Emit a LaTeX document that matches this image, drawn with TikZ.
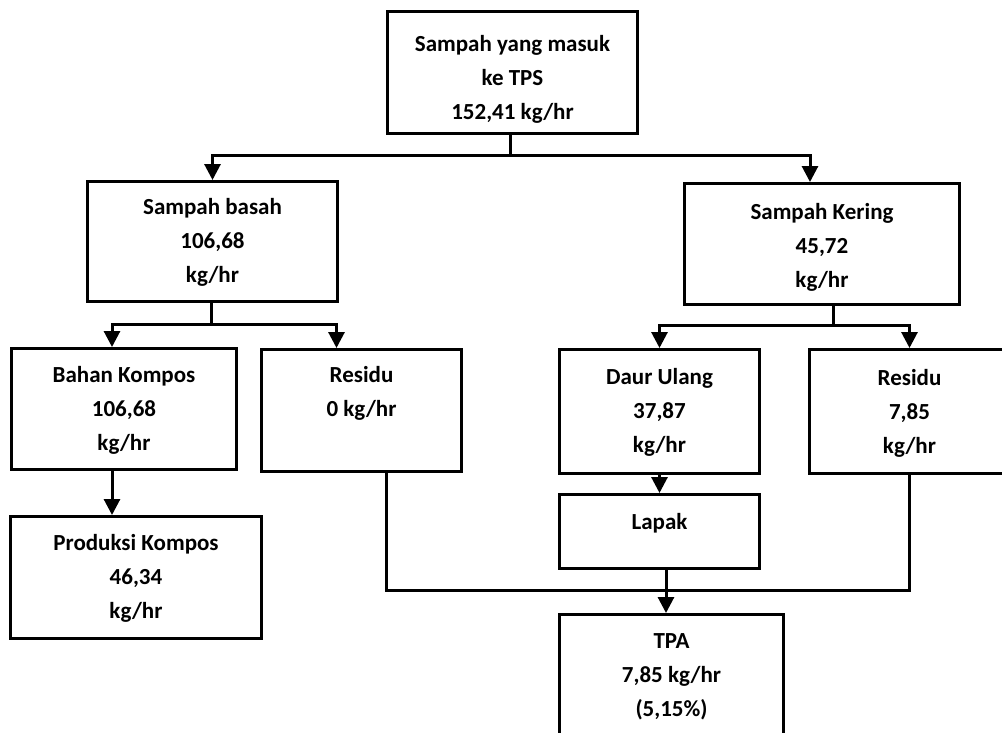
\documentclass[tikz,border=0pt]{standalone}
\usepackage{fontspec}
\setmainfont{Carlito}
\usetikzlibrary{arrows.meta}

\begin{document}
\begin{tikzpicture}[x=1pt, y=-1pt,
  box/.style={draw, line width=3pt, inner sep=0pt, anchor=north west},
  txt/.style={inner sep=0pt, anchor=north, align=center,
              font=\fontsize{23}{34}\selectfont\bfseries},
  wire/.style={line width=3pt},
  arr/.style={wire, -{Triangle[width=16pt,length=16pt]}}]

% page
\fill[white] (0,0) rectangle (1002,732);
\useasboundingbox (0,0) rectangle (1002,732);

% boxes
\node[box, minimum width=250pt, minimum height=122pt] (top)    at (386,10)  {};
\node[box, minimum width=250pt, minimum height=120pt] (basah)  at (86,180)  {};
\node[box, minimum width=275pt, minimum height=121pt] (kering) at (683,182) {};
\node[box, minimum width=225pt, minimum height=121pt] (bahan)  at (10,347)  {};
\node[box, minimum width=200pt, minimum height=122pt] (resL)   at (260,348) {};
\node[box, minimum width=251pt, minimum height=122pt] (prod)   at (9,515)   {};
\node[box, minimum width=200pt, minimum height=124pt] (daur)   at (558,348) {};
\node[box, minimum width=200pt, minimum height=124pt] (resR)   at (808,348) {};
\node[box, minimum width=200pt, minimum height=74pt]  (lapak)  at (558,493) {};
\node[box, minimum width=224pt, minimum height=150pt] (tpa)    at (558,613) {};

% texts
\node[txt] (topT)    at ([yshift=-25pt]top.north)    {Sampah yang masuk\\ke TPS\\152,41 kg/hr};
\node[txt] (basahT)  at ([yshift=-18pt]basah.north)  {Sampah basah\\106,68\\kg/hr};
\node[txt] (keringT) at ([yshift=-21pt]kering.north) {Sampah Kering\\45,72\\kg/hr};
\node[txt] (bahanT)  at ([yshift=-19pt]bahan.north)  {Bahan Kompos\\106,68\\kg/hr};
\node[txt] (resLT)   at ([yshift=-18pt]resL.north)   {Residu\\0 kg/hr};
\node[txt] (prodT)   at ([yshift=-19pt]prod.north)   {Produksi Kompos\\46,34\\kg/hr};
\node[txt] (daurT)   at ([yshift=-20pt]daur.north)   {Daur Ulang\\37,87\\kg/hr};
\node[txt] (resRT)   at ([yshift=-21pt]resR.north)   {Residu\\7,85\\kg/hr};
\node[txt] (lapakT)  at ([yshift=-20pt]lapak.north)  {Lapak};
\node[txt] (tpaT)    at ([yshift=-20pt]tpa.north)    {TPA\\7,85 kg/hr\\(5,15\%)};

% split of incoming waste
\coordinate (s1) at (510,155);
\draw[wire] (top.south -| s1) -- (s1);
\draw[arr] (s1) -| (basah.north);
\draw[arr] (s1) -| ([xshift=-12pt]kering.north);

% wet waste
\coordinate (s2) at (211,324);
\draw[wire] (basah.south -| s2) -- (s2);
\draw[arr] (s2) -| ([xshift=-12pt]bahan.north);
\draw[arr] (s2) -| ([xshift=-25pt]resL.north);
\draw[arr] ([xshift=-12pt]bahan.south) -- ([xshift=-12pt]bahan.south |- prod.north);

% dry waste
\coordinate (s3) at (833,325);
\draw[wire] (kering.south -| s3) -- (s3);
\draw[arr] (s3) -| (daur.north);
\draw[arr] (s3) -| (resR.north);
\draw[arr] (daur.south) -- (lapak.north);

% collection to TPA
\coordinate (j) at (666,590);
\draw[wire] ([xshift=25pt]resL.south) |- (j) -| (resR.south);
\draw[arr] (lapak.south -| j) -- (tpa.north -| j);

\end{tikzpicture}
\end{document}
